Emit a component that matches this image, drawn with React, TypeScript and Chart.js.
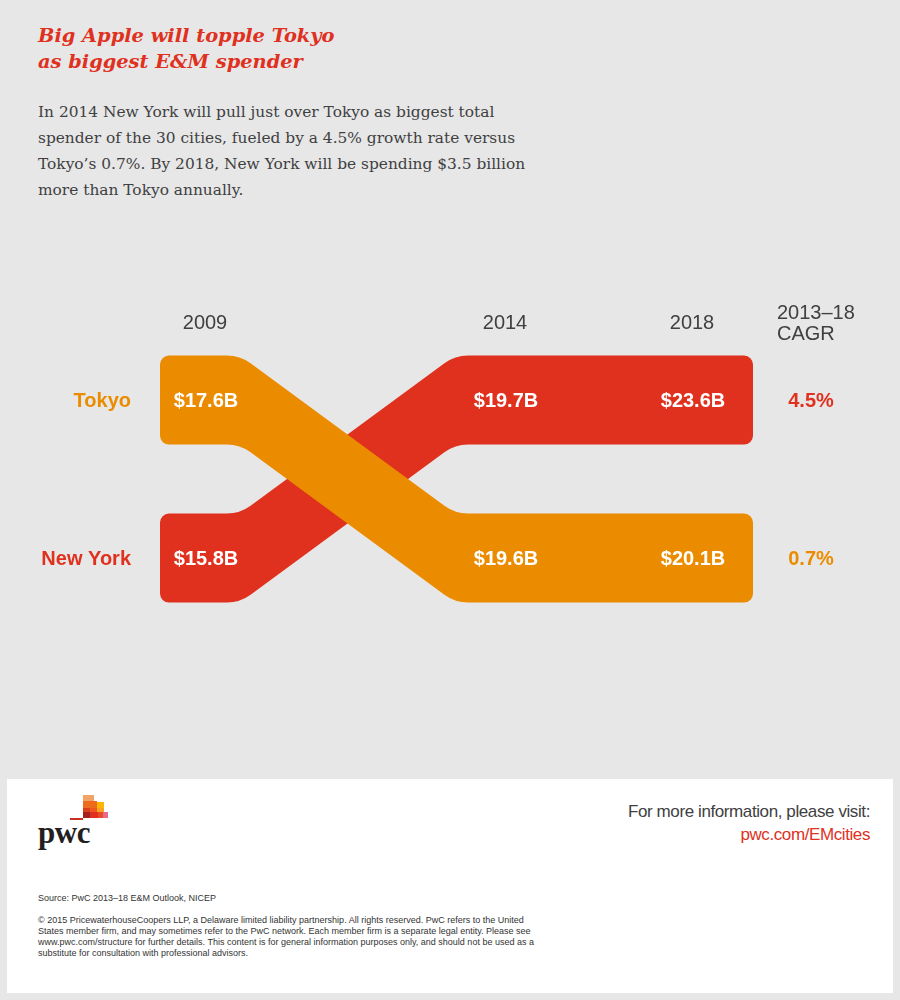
import React, { useEffect, useRef } from "react";
import { Chart, registerables } from "chart.js";

Chart.register(...registerables);

// ---------- data ----------
const years = ["2009", "2014", "2018"];
const cities = ["Tokyo", "New York"];
const tokyoSpend = [17.6, 19.6, 20.1]; // $B
const newYorkSpend = [15.8, 19.7, 23.6]; // $B
const cagrValues = [0.7, 4.5]; // 2013–18 CAGR, % (Tokyo, New York)
const cagrHeader = ["2013–18", "CAGR"];
const cityColors = ["#eb8c00", "#e0301e"];

// ---------- layout / style (not data) ----------
const COL_X = [0, 3, 4.87];
const CAGR_VALUE_X = 6.06;
const CAGR_HEADER_X = 5.72;
const X_MIN = -2.05;
const X_MAX = 6.95;
const Y_MIN = 0.3038;
const Y_MAX = 2.392;
const BAND_HALF = 44.5;
const SANS = '"Liberation Sans", Arial, Helvetica, sans-serif';
const SERIF = '"Liberation Serif", "Times New Roman", serif';
const SERIF2 = '"DejaVu Serif", Georgia, serif';
const TEXT = "#404041";

const seriesValues = [tokyoSpend, newYorkSpend];

function ranksFor(yearIdx: number): number[] {
  return seriesValues.map((s, i) =>
    1 + seriesValues.filter((o, k) => k !== i && o[yearIdx] > s[yearIdx]).length
  );
}

function roundedPoly(ctx: CanvasRenderingContext2D, pts: { x: number; y: number }[], radii: number[]) {
  const n = pts.length;
  const a = pts[n - 1];
  const b = pts[0];
  ctx.beginPath();
  ctx.moveTo((a.x + b.x) / 2, (a.y + b.y) / 2);
  for (let i = 0; i < n; i++) {
    const p = pts[i];
    const q = pts[(i + 1) % n];
    ctx.arcTo(p.x, p.y, q.x, q.y, radii[i]);
  }
  ctx.closePath();
  ctx.fill();
}

const bandPlugin = {
  id: "bandPlugin",
  afterDatasetsDraw(chart: any) {
    const ctx: CanvasRenderingContext2D = chart.ctx;
    const xs = chart.scales.x;
    const ys = chart.scales.y;
    const h = BAND_HALF;
    const n = years.length;
    ctx.save();

    // bands (draw in reverse so first city ends on top)
    for (let i = cities.length - 1; i >= 0; i--) {
      const pts = chart.getDatasetMeta(i).data.map((el: any) => ({ x: el.x, y: el.y }));
      const top: { x: number; y: number; r: number }[] = [];
      top.push({ x: pts[0].x - 45, y: pts[0].y - h, r: 9 });
      for (let j = 0; j < n; j++) {
        if (j > 0) top.push({ x: pts[j].x - 50, y: pts[j].y - h, r: 40 });
        if (j < n - 1) top.push({ x: pts[j].x + 35, y: pts[j].y - h, r: 40 });
      }
      top.push({ x: pts[n - 1].x + 61, y: pts[n - 1].y - h, r: 9 });
      const bottom = top.map((p) => ({ x: p.x, y: p.y + 2 * h, r: p.r })).reverse();
      const all = top.concat(bottom);
      ctx.fillStyle = cityColors[i];
      roundedPoly(ctx, all, all.map((p) => p.r));

      // value labels
      ctx.fillStyle = "#ffffff";
      ctx.font = `bold 20px ${SANS}`;
      ctx.textAlign = "center";
      ctx.textBaseline = "middle";
      pts.forEach((p: any, j: number) => {
        ctx.fillText(`$${seriesValues[i][j].toFixed(1)}B`, p.x + 1, p.y + 1);
      });
    }

    // row labels (by first-year rank)
    const r0 = ranksFor(0);
    ctx.font = `bold 20px ${SANS}`;
    ctx.textAlign = "right";
    ctx.textBaseline = "middle";
    cities.forEach((c, i) => {
      ctx.fillStyle = cityColors[i];
      ctx.fillText(c, xs.getPixelForValue(COL_X[0]) - 74, ys.getPixelForValue(r0[i]) + 1);
    });

    // CAGR (by last-year rank)
    const rl = ranksFor(n - 1);
    ctx.textAlign = "center";
    cities.forEach((c, i) => {
      ctx.fillStyle = cityColors[i];
      ctx.fillText(`${cagrValues[i].toFixed(1)}%`, xs.getPixelForValue(CAGR_VALUE_X), ys.getPixelForValue(rl[i]) + 1);
    });

    // headers
    const top1 = ys.getPixelForValue(1);
    ctx.fillStyle = TEXT;
    ctx.font = `20px ${SANS}`;
    ctx.textAlign = "center";
    years.forEach((y, j) => {
      ctx.fillText(y, xs.getPixelForValue(COL_X[j]), top1 - 77);
    });
    ctx.textAlign = "left";
    cagrHeader.forEach((t, k) => {
      ctx.fillText(t, xs.getPixelForValue(CAGR_HEADER_X), top1 - 87 + k * 21);
    });

    ctx.restore();
  },
};

function BandChart() {
  const ref = useRef<HTMLCanvasElement>(null);
  useEffect(() => {
    if (!ref.current) return;
    const ranks = years.map((_, j) => ranksFor(j));
    const chart = new Chart(ref.current, {
      type: "line",
      data: {
        datasets: cities.map((c, i) => ({
          label: c,
          data: years.map((_, j) => ({ x: COL_X[j], y: ranks[j][i] })),
          showLine: false,
          pointRadius: 0,
          borderColor: cityColors[i],
          backgroundColor: cityColors[i],
        })),
      },
      options: {
        animation: false,
        responsive: false,
        devicePixelRatio: 1,
        layout: { padding: 0 },
        plugins: { legend: { display: false }, tooltip: { enabled: false } },
        scales: {
          x: { type: "linear", min: X_MIN, max: X_MAX, display: false },
          y: { type: "linear", min: Y_MIN, max: Y_MAX, reverse: true, display: false },
        },
      },
      plugins: [bandPlugin],
    } as any);
    return () => chart.destroy();
  }, []);
  return (
    <canvas
      ref={ref}
      width={900}
      height={330}
      style={{ position: "absolute", left: 0, top: 290, width: 900, height: 330, display: "block" }}
    />
  );
}

function Logo() {
  const b = (x: number, y: number, w: number, h: number, c: string) => (
    <div style={{ position: "absolute", left: x, top: y, width: w, height: h, background: c }} />
  );
  return (
    <>
      {b(83, 795, 11, 6, "#f3a366")}
      {b(83, 801, 14, 7, "#ec6b1c")}
      {b(97, 802, 7, 6, "#ffb600")}
      {b(83, 808, 7, 4, "#d8401a")}
      {b(90, 808, 7, 4, "#f0561f")}
      {b(97, 808, 7, 4, "#f8a320")}
      {b(83, 812, 7, 6, "#a32020")}
      {b(90, 812, 8, 6, "#e0301e")}
      {b(98, 812, 5, 6, "#ea4a28")}
      {b(103, 812, 5, 6, "#e8698a")}
      {b(70, 818, 13, 2, "#c8301f")}
      <div
        style={{
          position: "absolute",
          left: 38,
          top: 816,
          font: `bold 31px ${SERIF}`,
          lineHeight: "34px",
          color: "#231f20",
          letterSpacing: -0.5,
        }}
      >
        pwc
      </div>
    </>
  );
}

export default function App() {
  return (
    <div
      style={{
        position: "absolute",
        left: 0,
        top: 0,
        width: 900,
        height: 1000,
        overflow: "hidden",
        background: "#e7e7e7",
      }}
    >
      <div
        style={{
          position: "absolute",
          left: 38,
          top: 23,
          font: `italic bold 19.4px ${SERIF2}`,
          lineHeight: "26px",
          color: "#e0301e",
          whiteSpace: "nowrap",
        }}
      >
        Big Apple will topple Tokyo
        <br />
        as biggest E&amp;M spender
      </div>
      <div
        style={{
          position: "absolute",
          left: 38,
          top: 99,
          font: `15.4px ${SERIF2}`,
          lineHeight: "26px",
          color: TEXT,
          whiteSpace: "nowrap",
        }}
      >
        In 2014 New York will pull just over Tokyo as biggest total
        <br />
        spender of the 30 cities, fueled by a 4.5% growth rate versus
        <br />
        Tokyo’s 0.7%. By 2018, New York will be spending $3.5 billion
        <br />
        more than Tokyo annually.
      </div>

      <BandChart />

      <div style={{ position: "absolute", left: 7, top: 779, width: 886, height: 214, background: "#ffffff" }} />
      <Logo />
      <div
        style={{
          position: "absolute",
          right: 30,
          top: 800,
          font: `17px ${SANS}`,
          lineHeight: "23px",
          letterSpacing: -0.4,
          textAlign: "right",
          color: TEXT,
          whiteSpace: "nowrap",
        }}
      >
        For more information, please visit:
        <br />
        <span style={{ color: "#e0301e" }}>pwc.com/EMcities</span>
      </div>
      <div
        style={{
          position: "absolute",
          left: 38,
          top: 893,
          font: `9px ${SANS}`,
          lineHeight: "11px",
          color: "#333333",
          whiteSpace: "nowrap",
        }}
      >
        Source: PwC 2013–18 E&amp;M Outlook, NICEP
      </div>
      <div
        style={{
          position: "absolute",
          left: 38,
          top: 915,
          font: `9px ${SANS}`,
          lineHeight: "11px",
          color: "#333333",
          whiteSpace: "nowrap",
        }}
      >
        © 2015 PricewaterhouseCoopers LLP, a Delaware limited liability partnership. All rights reserved. PwC refers to the United
        <br />
        States member firm, and may sometimes refer to the PwC network. Each member firm is a separate legal entity. Please see
        <br />
        www.pwc.com/structure for further details. This content is for general information purposes only, and should not be used as a
        <br />
        substitute for consultation with professional advisors.
      </div>
    </div>
  );
}
